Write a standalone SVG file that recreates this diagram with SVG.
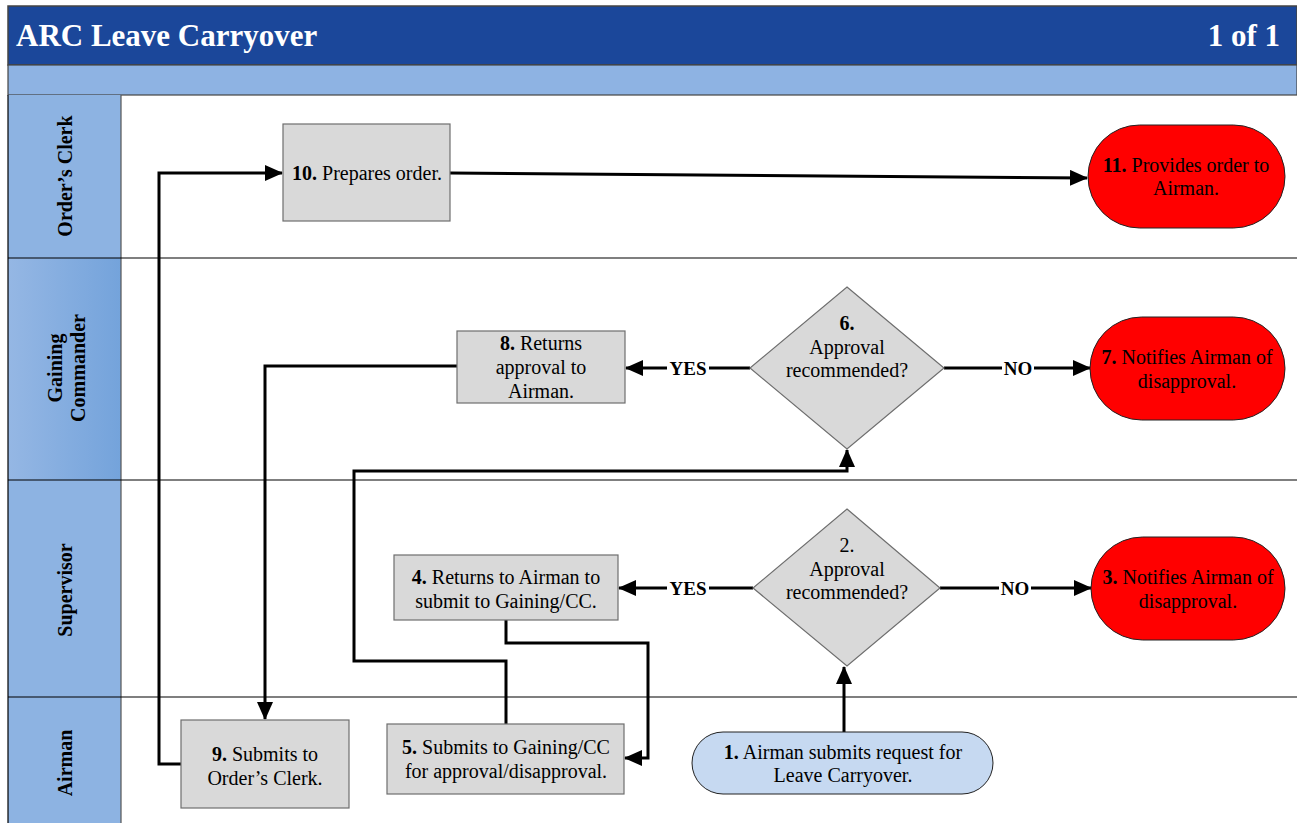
<svg xmlns="http://www.w3.org/2000/svg" width="1297" height="823" viewBox="0 0 1297 823">
<style>
.t{font-family:"Liberation Serif","Times New Roman",serif;font-size:20px;fill:#000}
.b{font-weight:bold}
.lane{font-family:"Liberation Serif","Times New Roman",serif;font-size:20px;font-weight:bold;fill:#000}
.box{fill:#d9d9d9;stroke:#6e6e6e;stroke-width:1.2}
.red{fill:#ff0000;stroke:#222;stroke-width:1}
.blue{fill:#c6d9f1;stroke:#222;stroke-width:1}
.c{fill:none;stroke:#000;stroke-width:3}
.lbl{font-family:"Liberation Serif","Times New Roman",serif;font-size:19px;font-weight:bold;fill:#000}
.hd{font-family:"Liberation Serif","Times New Roman",serif;font-size:31px;font-weight:bold;fill:#fff}
</style>
<defs>
<marker id="ah" markerWidth="18" markerHeight="16" refX="17" refY="8" orient="auto" markerUnits="userSpaceOnUse" viewBox="0 0 18 16">
<path d="M0,0 L18,8 L0,16 z" fill="#000"/>
</marker>
<linearGradient id="g" x1="0" x2="1" y1="0" y2="0">
<stop offset="0" stop-color="#95b7e4"/>
<stop offset="1" stop-color="#74a3db"/>
</linearGradient>
</defs>
<rect width="1297" height="823" fill="#fff"/>
<g id="header">
<rect x="8" y="6" width="1289" height="59" fill="#1b479a" stroke="#444" stroke-width="1.5"/>
<text class="hd" x="16" y="46">ARC Leave Carryover</text>
<text class="hd" x="1280" y="46" text-anchor="end">1 of 1</text>
<rect x="8" y="65" width="1289" height="30" fill="#8eb3e3" stroke="#444" stroke-width="1.2"/>
</g>
<g id="lanes">
<rect x="8" y="95" width="113" height="163" fill="#8db3e2"/>
<rect x="8" y="258" width="113" height="222" fill="url(#g)"/>
<rect x="8" y="480" width="113" height="217" fill="#8db3e2"/>
<rect x="8" y="697" width="113" height="126" fill="#8db3e2"/>
<line x1="121" y1="95" x2="121" y2="823" stroke="#555" stroke-width="1.2"/>
<line x1="8" y1="95" x2="8" y2="823" stroke="#000" stroke-width="1.2"/>
<line x1="8" y1="258" x2="1297" y2="258" stroke="#000" stroke-width="1.2"/>
<line x1="8" y1="480" x2="1297" y2="480" stroke="#000" stroke-width="1.2"/>
<line x1="8" y1="697" x2="1297" y2="697" stroke="#000" stroke-width="1.2"/>
<text class="lane" transform="translate(72,176) rotate(-90)" text-anchor="middle">Order’s Clerk</text>
<text class="lane" transform="translate(62,368) rotate(-90)" text-anchor="middle">Gaining</text>
<text class="lane" transform="translate(85,368) rotate(-90)" text-anchor="middle">Commander</text>
<text class="lane" transform="translate(72,590) rotate(-90)" text-anchor="middle">Supervisor</text>
<text class="lane" transform="translate(72,763) rotate(-90)" text-anchor="middle">Airman</text>
</g>
<g id="connectors">
<path class="c" d="M844,732 V667" marker-end="url(#ah)"/>
<path class="c" d="M753,588 H619" marker-end="url(#ah)"/>
<path class="c" d="M940,588 H1091" marker-end="url(#ah)"/>
<path class="c" d="M506,620 V643 H648 V758 H625" marker-end="url(#ah)"/>
<path class="c" d="M506,724 V661 H354 V471 H847 V450" marker-end="url(#ah)"/>
<path class="c" d="M750,368 H626" marker-end="url(#ah)"/>
<path class="c" d="M944,368 H1090" marker-end="url(#ah)"/>
<path class="c" d="M457,366 H265 V719" marker-end="url(#ah)"/>
<path class="c" d="M181,764 H159 V173 H282" marker-end="url(#ah)"/>
<path class="c" d="M450,173 L1087,178" marker-end="url(#ah)"/>
<rect x="667" y="577" width="42" height="22" fill="#fff"/>
<text class="lbl" x="688" y="595" text-anchor="middle">YES</text>
<rect x="999" y="577" width="32" height="22" fill="#fff"/>
<text class="lbl" x="1015" y="595" text-anchor="middle">NO</text>
<rect x="667" y="357" width="42" height="22" fill="#fff"/>
<text class="lbl" x="688" y="375" text-anchor="middle">YES</text>
<rect x="1002" y="357" width="32" height="22" fill="#fff"/>
<text class="lbl" x="1018" y="375" text-anchor="middle">NO</text>
</g>
<g id="n10">
<rect class="box" x="283" y="124" width="167" height="97"/>
<text class="t" x="367" y="180" text-anchor="middle"><tspan class="b">10.</tspan> Prepares order.</text>
</g>
<g id="n11">
<rect class="red" x="1088" y="125" width="197" height="103" rx="51.5"/>
<text class="t" x="1186" y="172" text-anchor="middle"><tspan class="b">11.</tspan> Provides order to</text>
<text class="t" x="1186" y="195" text-anchor="middle">Airman.</text>
</g>
<g id="n8">
<rect class="box" x="457" y="331" width="168" height="72"/>
<text class="t" x="541" y="350" text-anchor="middle"><tspan class="b">8.</tspan> Returns</text>
<text class="t" x="541" y="374" text-anchor="middle">approval to</text>
<text class="t" x="541" y="398" text-anchor="middle">Airman.</text>
</g>
<g id="n6">
<polygon class="box" points="847,287 944,368 847,449 750,368" stroke="#444"/>
<text class="t" x="847" y="330" text-anchor="middle"><tspan class="b">6.</tspan></text>
<text class="t" x="847" y="354" text-anchor="middle">Approval</text>
<text class="t" x="847" y="377" text-anchor="middle">recommended?</text>
</g>
<g id="n7">
<rect class="red" x="1090" y="317" width="195" height="103" rx="51.5"/>
<text class="t" x="1187" y="364" text-anchor="middle"><tspan class="b">7.</tspan> Notifies Airman of</text>
<text class="t" x="1187" y="388" text-anchor="middle">disapproval.</text>
</g>
<g id="n4">
<rect class="box" x="394" y="555" width="224" height="65"/>
<text class="t" x="506" y="584" text-anchor="middle"><tspan class="b">4.</tspan> Returns to Airman to</text>
<text class="t" x="506" y="608" text-anchor="middle">submit to Gaining/CC.</text>
</g>
<g id="n2">
<polygon class="box" points="847,509 940,588 847,666 753,588" stroke="#444"/>
<text class="t" x="847" y="552" text-anchor="middle">2.</text>
<text class="t" x="847" y="576" text-anchor="middle">Approval</text>
<text class="t" x="847" y="599" text-anchor="middle">recommended?</text>
</g>
<g id="n3">
<rect class="red" x="1091" y="537" width="194" height="103" rx="51.5"/>
<text class="t" x="1188" y="584" text-anchor="middle"><tspan class="b">3.</tspan> Notifies Airman of</text>
<text class="t" x="1188" y="608" text-anchor="middle">disapproval.</text>
</g>
<g id="n9">
<rect class="box" x="181" y="720" width="168" height="88"/>
<text class="t" x="265" y="761" text-anchor="middle"><tspan class="b">9.</tspan> Submits to</text>
<text class="t" x="265" y="785" text-anchor="middle">Order’s Clerk.</text>
</g>
<g id="n5">
<rect class="box" x="387" y="724" width="237" height="70"/>
<text class="t" x="506" y="754" text-anchor="middle"><tspan class="b">5.</tspan> Submits to Gaining/CC</text>
<text class="t" x="506" y="778" text-anchor="middle">for approval/disapproval.</text>
</g>
<g id="n1">
<rect class="blue" x="692" y="732" width="301" height="62" rx="31"/>
<text class="t" x="843" y="759" text-anchor="middle"><tspan class="b">1.</tspan> Airman submits request for</text>
<text class="t" x="843" y="782" text-anchor="middle">Leave Carryover.</text>
</g>
</svg>
